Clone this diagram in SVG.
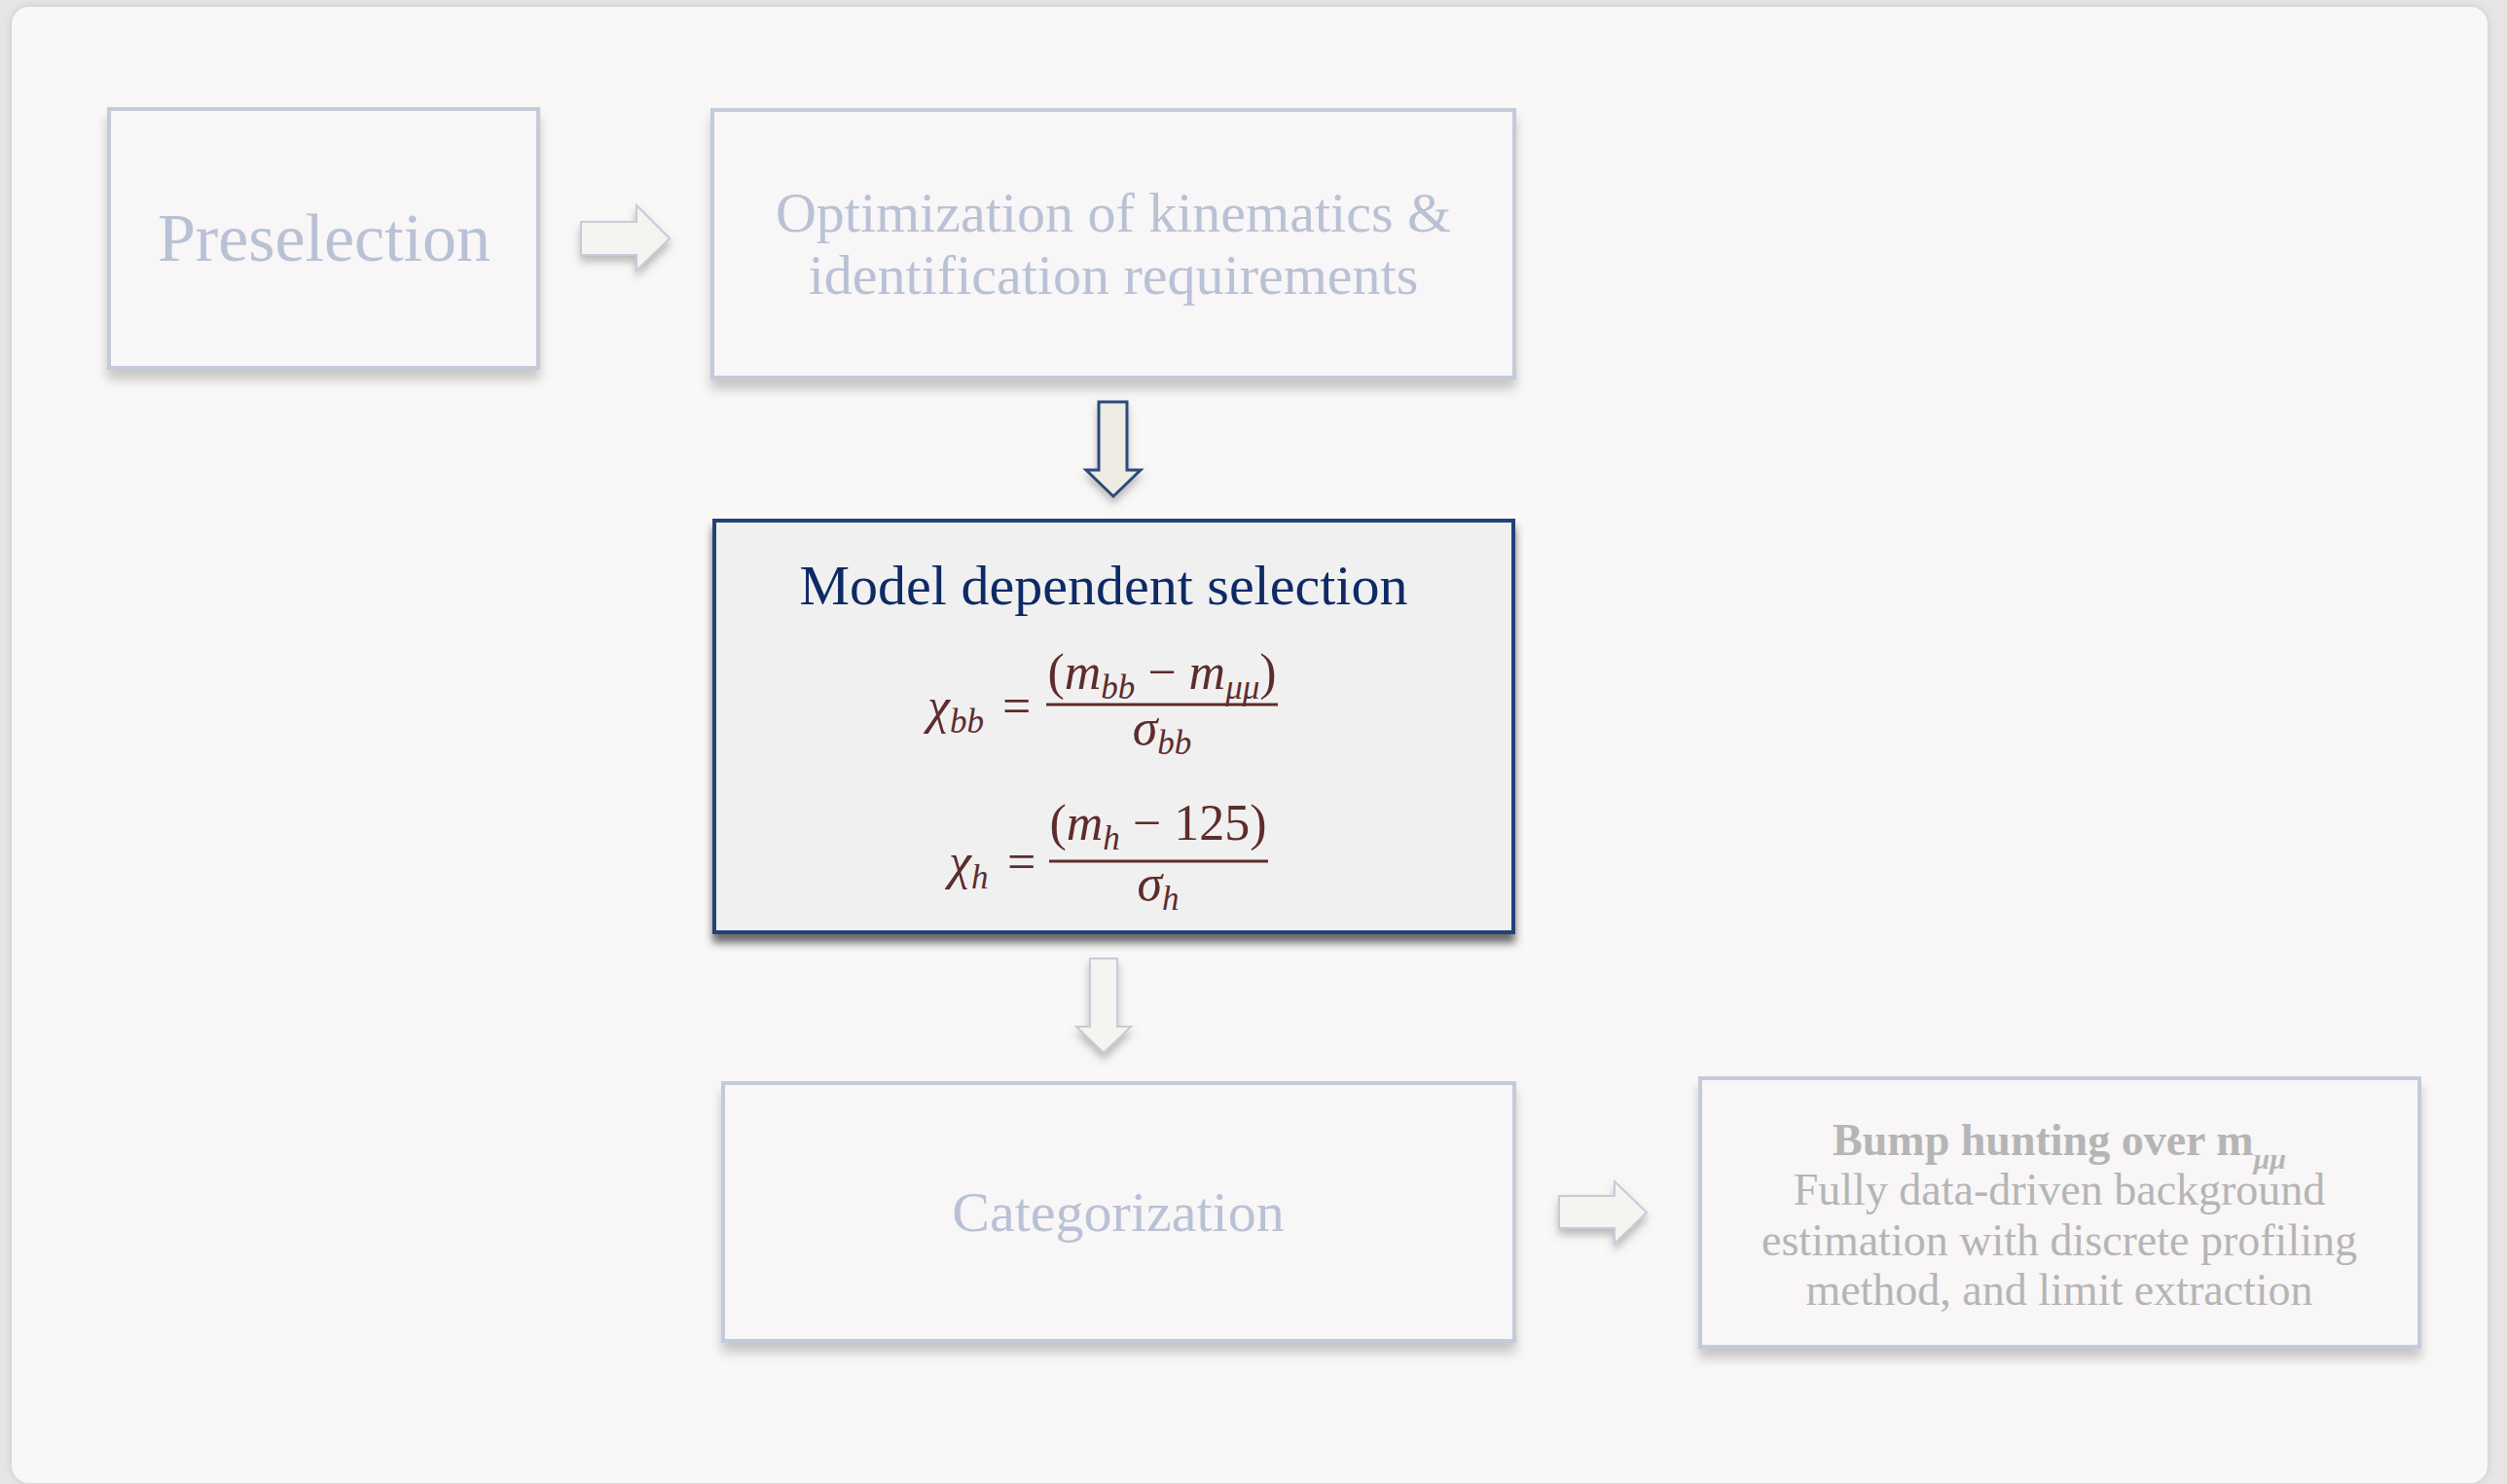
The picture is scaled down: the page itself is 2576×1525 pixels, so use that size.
<svg xmlns="http://www.w3.org/2000/svg" width="2576" height="1525" viewBox="0 0 2576 1525">
<defs>
<filter id="sh" x="-10%" y="-10%" width="120%" height="130%">
<feDropShadow dx="0" dy="10" stdDeviation="6" flood-color="#8a8a8a" flood-opacity="0.45"/>
</filter>
<filter id="shDark" x="-10%" y="-10%" width="120%" height="130%">
<feDropShadow dx="0" dy="9" stdDeviation="4" flood-color="#3a3a3a" flood-opacity="0.75"/>
</filter>
<filter id="shA" x="-30%" y="-30%" width="160%" height="160%">
<feDropShadow dx="0" dy="6" stdDeviation="4" flood-color="#7a7a7a" flood-opacity="0.5"/>
</filter>
<filter id="card" x="-2%" y="-2%" width="104%" height="104%">
<feDropShadow dx="0" dy="0" stdDeviation="4" flood-color="#b0b0b0" flood-opacity="0.6"/>
</filter>
<style>
.box{fill:#f8f6f6;stroke:#c3cbdb;stroke-width:4}
.lbl{font-family:"Liberation Serif","DejaVu Serif",serif;fill:#b9c1d5;text-anchor:middle}
.bump{font-family:"Liberation Serif","DejaVu Serif",serif;fill:#b5b5b5;text-anchor:middle;font-size:46px}
.math{font-family:"Liberation Serif","DejaVu Serif",serif;fill:#5e2c2c;font-size:52px}
.it{font-style:italic}
.sub{font-size:35px;font-style:italic}
.arrL{fill:#f6f4f1;stroke:#c5cbd8;stroke-width:2}
.arrD{fill:#eeebe2;stroke:#2a4a7c;stroke-width:3}
</style>
</defs>
<rect x="0" y="0" width="2576" height="1525" fill="#e6e6e5"/>
<rect x="12" y="7" width="2544" height="1517" rx="18" fill="#f9f8f6" filter="url(#card)"/>

<g id="connectors">
<path class="arrL" filter="url(#shA)" d="M597,228 L654,228 L654,211 L688,245 L654,278 L654,262 L597,262 Z"/>
<path class="arrD" filter="url(#shA)" d="M1129,413 L1158,413 L1158,483 L1172,483 L1144,510 L1116,483 L1129,483 Z"/>
<path class="arrL" filter="url(#shA)" d="M1120,985 L1148,985 L1148,1055 L1162,1055 L1134,1082 L1106,1055 L1120,1055 Z"/>
<path class="arrL" filter="url(#shA)" d="M1602,1229 L1659,1229 L1659,1214 L1692,1246 L1659,1278 L1659,1262 L1602,1262 Z"/>
</g>

<g id="preselection">
<rect class="box" filter="url(#sh)" x="112" y="112" width="441" height="266"/>
<text class="lbl" x="333" y="268" font-size="70">Preselection</text>
</g>

<g id="optimization">
<rect class="box" filter="url(#sh)" x="732" y="113" width="824" height="275"/>
<text class="lbl" x="1144" y="238" font-size="58">Optimization of kinematics &amp;</text>
<text class="lbl" x="1144" y="302" font-size="58">identification requirements</text>
</g>

<g id="model">
<rect x="734" y="535" width="821" height="423" fill="#f0f0f0" stroke="#22427a" stroke-width="4" filter="url(#shDark)"/>
<text x="1134" y="621" font-family="'Liberation Serif','DejaVu Serif',serif" font-size="58" fill="#0e2a66" text-anchor="middle">Model dependent selection</text>
<text class="math" x="953" y="743"><tspan class="it">χ</tspan><tspan class="sub" dy="10">bb</tspan><tspan dy="-10" x="1030">=</tspan></text>
<line x1="1075" y1="724" x2="1313" y2="724" stroke="#5e2c2c" stroke-width="3"/>
<text class="math" x="1194" y="708" text-anchor="middle">(<tspan class="it">m</tspan><tspan class="sub" dy="10">bb</tspan><tspan dy="-10"> − </tspan><tspan class="it">m</tspan><tspan class="sub" dy="10">μμ</tspan><tspan dy="-10">)</tspan></text>
<text class="math" x="1194" y="765" text-anchor="middle"><tspan class="it">σ</tspan><tspan class="sub" dy="10">bb</tspan></text>
<text class="math" x="975" y="903"><tspan class="it">χ</tspan><tspan class="sub" dy="10">h</tspan><tspan dy="-10" x="1035">=</tspan></text>
<line x1="1078" y1="885" x2="1303" y2="885" stroke="#5e2c2c" stroke-width="3"/>
<text class="math" x="1190" y="863" text-anchor="middle">(<tspan class="it">m</tspan><tspan class="sub" dy="10">h</tspan><tspan dy="-10"> − 125)</tspan></text>
<text class="math" x="1190" y="925" text-anchor="middle"><tspan class="it">σ</tspan><tspan class="sub" dy="10">h</tspan></text>
</g>

<g id="categorization">
<rect class="box" filter="url(#sh)" x="743" y="1113" width="813" height="265"/>
<text class="lbl" x="1149" y="1265" font-size="58">Categorization</text>
</g>

<g id="bump">
<rect class="box" filter="url(#sh)" x="1747" y="1108" width="739" height="276"/>
<text class="bump" x="2116" y="1187" font-weight="bold">Bump hunting over m<tspan font-size="30" font-style="italic" dy="14">μμ</tspan></text>
<text class="bump" x="2116" y="1238">Fully data-driven background</text>
<text class="bump" x="2116" y="1290">estimation with discrete profiling</text>
<text class="bump" x="2116" y="1341">method, and limit extraction</text>
</g>
</svg>
